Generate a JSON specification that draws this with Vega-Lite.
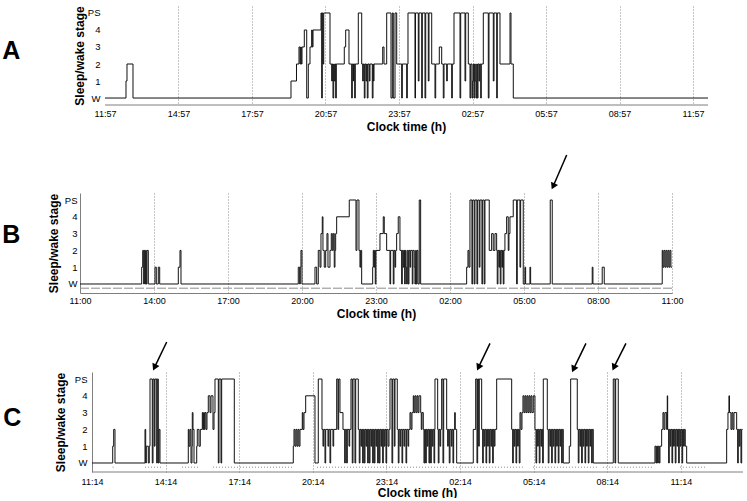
{
"$schema": "https://vega.github.io/schema/vega-lite/v6.json",
"padding": {"left": 2, "top": 5, "right": 2, "bottom": 0},
"columns": 1,
"spacing": 22,
"config": {
  "view": {"stroke": null},
  "font": "Liberation Sans",
  "axis": {"ticks": false, "labelFont": "Liberation Sans", "titleFont": "Liberation Sans", "labelColor": "#000", "titleColor": "#000", "labelFontSize": 9, "titleFontSize": 12, "titleFontWeight": "bold", "domainColor": "#7f7f7f", "gridColor": "#8a8a8a", "gridDash": [1, 2], "labelFlush": false, "labelOverlap": false},
  "axisY": {"labelFontSize": 9.5},
  "title": {"font": "Liberation Sans", "color": "#000"}
},
"datasets": {
"hypA": [{"t":0,"s":0},{"t":0.857,"s":1},{"t":0.898,"s":2},{"t":1.143,"s":0},{"t":7.592,"s":1},{"t":7.816,"s":2},{"t":7.918,"s":3},{"t":7.959,"s":2},{"t":7.988,"s":3},{"t":8.012,"s":2},{"t":8.041,"s":3},{"t":8.135,"s":4},{"t":8.233,"s":0},{"t":8.298,"s":2},{"t":8.367,"s":3},{"t":8.437,"s":4},{"t":8.461,"s":3},{"t":8.49,"s":4},{"t":8.816,"s":5},{"t":8.845,"s":0},{"t":8.869,"s":5},{"t":8.898,"s":2},{"t":8.927,"s":5},{"t":9.184,"s":2},{"t":9.253,"s":1},{"t":9.278,"s":2},{"t":9.306,"s":0},{"t":9.335,"s":2},{"t":9.359,"s":1},{"t":9.388,"s":2},{"t":9.416,"s":0},{"t":9.441,"s":2},{"t":9.767,"s":3},{"t":9.824,"s":4},{"t":9.959,"s":2},{"t":10.069,"s":0},{"t":10.094,"s":2},{"t":10.135,"s":1},{"t":10.151,"s":2},{"t":10.192,"s":0},{"t":10.216,"s":2},{"t":10.339,"s":5},{"t":10.478,"s":2},{"t":10.518,"s":1},{"t":10.543,"s":2},{"t":10.584,"s":0},{"t":10.612,"s":2},{"t":10.653,"s":1},{"t":10.682,"s":2},{"t":10.706,"s":0},{"t":10.735,"s":2},{"t":10.788,"s":1},{"t":10.816,"s":2},{"t":10.91,"s":0},{"t":10.939,"s":2},{"t":10.951,"s":1},{"t":10.98,"s":2},{"t":11.335,"s":3},{"t":11.388,"s":2},{"t":11.498,"s":5},{"t":11.673,"s":0},{"t":11.727,"s":5},{"t":11.767,"s":0},{"t":11.837,"s":5},{"t":11.906,"s":2},{"t":12.11,"s":0},{"t":12.135,"s":2},{"t":12.314,"s":0},{"t":12.339,"s":2},{"t":12.367,"s":5},{"t":12.653,"s":0},{"t":12.673,"s":5},{"t":12.788,"s":1},{"t":12.816,"s":5},{"t":12.927,"s":0},{"t":12.951,"s":5},{"t":13.061,"s":0},{"t":13.09,"s":5},{"t":13.196,"s":1},{"t":13.224,"s":5},{"t":13.335,"s":2},{"t":13.469,"s":0},{"t":13.498,"s":2},{"t":13.645,"s":3},{"t":13.743,"s":2},{"t":13.808,"s":0},{"t":13.837,"s":2},{"t":13.947,"s":1},{"t":13.971,"s":2},{"t":14.151,"s":0},{"t":14.176,"s":2},{"t":14.245,"s":5},{"t":14.49,"s":0},{"t":14.518,"s":5},{"t":14.694,"s":1},{"t":14.722,"s":5},{"t":14.829,"s":2},{"t":14.898,"s":0},{"t":14.927,"s":2},{"t":14.98,"s":0},{"t":15.008,"s":1},{"t":15.033,"s":2},{"t":15.061,"s":0},{"t":15.09,"s":2},{"t":15.114,"s":1},{"t":15.143,"s":0},{"t":15.171,"s":2},{"t":15.196,"s":0},{"t":15.224,"s":2},{"t":15.265,"s":1},{"t":15.294,"s":2},{"t":15.335,"s":0},{"t":15.359,"s":2},{"t":15.441,"s":5},{"t":15.645,"s":0},{"t":15.673,"s":5},{"t":15.849,"s":1},{"t":15.878,"s":5},{"t":15.988,"s":0},{"t":16.012,"s":5},{"t":16.122,"s":2},{"t":16.531,"s":5},{"t":16.571,"s":2},{"t":16.665,"s":0},{"t":24.612,"s":0}],
"hypB": [{"t":0,"s":0},{"t":2.501,"s":1},{"t":2.542,"s":2},{"t":2.582,"s":0},{"t":2.606,"s":2},{"t":2.635,"s":0},{"t":2.663,"s":2},{"t":2.687,"s":0},{"t":2.716,"s":2},{"t":2.769,"s":0},{"t":3.04,"s":1},{"t":3.093,"s":0},{"t":3.174,"s":1},{"t":3.231,"s":0},{"t":3.985,"s":1},{"t":4.054,"s":2},{"t":4.094,"s":0},{"t":8.849,"s":1},{"t":8.906,"s":0},{"t":8.93,"s":1},{"t":8.958,"s":2},{"t":8.999,"s":0},{"t":9.526,"s":1},{"t":9.595,"s":0},{"t":9.66,"s":2},{"t":9.729,"s":1},{"t":9.769,"s":3},{"t":9.822,"s":4},{"t":9.85,"s":2},{"t":9.903,"s":1},{"t":9.96,"s":2},{"t":10.012,"s":3},{"t":10.053,"s":1},{"t":10.134,"s":2},{"t":10.187,"s":3},{"t":10.227,"s":2},{"t":10.268,"s":3},{"t":10.308,"s":1},{"t":10.337,"s":2},{"t":10.365,"s":3},{"t":10.405,"s":4},{"t":10.916,"s":5},{"t":11.188,"s":2},{"t":11.228,"s":5},{"t":11.309,"s":2},{"t":11.35,"s":1},{"t":11.378,"s":2},{"t":11.419,"s":0},{"t":11.865,"s":1},{"t":11.889,"s":2},{"t":11.917,"s":1},{"t":11.946,"s":2},{"t":11.97,"s":0},{"t":11.998,"s":2},{"t":12.161,"s":3},{"t":12.294,"s":4},{"t":12.335,"s":3},{"t":12.432,"s":2},{"t":12.566,"s":0},{"t":12.594,"s":2},{"t":12.7,"s":0},{"t":12.728,"s":2},{"t":12.769,"s":1},{"t":12.797,"s":2},{"t":12.837,"s":3},{"t":12.902,"s":4},{"t":12.971,"s":2},{"t":13.04,"s":0},{"t":13.065,"s":2},{"t":13.105,"s":1},{"t":13.133,"s":2},{"t":13.162,"s":0},{"t":13.186,"s":2},{"t":13.214,"s":1},{"t":13.243,"s":0},{"t":13.267,"s":2},{"t":13.308,"s":0},{"t":13.336,"s":2},{"t":13.377,"s":1},{"t":13.405,"s":2},{"t":13.47,"s":0},{"t":13.498,"s":2},{"t":13.551,"s":1},{"t":13.579,"s":0},{"t":13.608,"s":2},{"t":13.632,"s":0},{"t":13.66,"s":2},{"t":13.701,"s":0},{"t":13.754,"s":5},{"t":13.81,"s":0},{"t":15.675,"s":1},{"t":15.728,"s":2},{"t":15.768,"s":1},{"t":15.809,"s":5},{"t":15.89,"s":0},{"t":15.918,"s":5},{"t":15.983,"s":0},{"t":16.011,"s":5},{"t":16.092,"s":0},{"t":16.121,"s":5},{"t":16.186,"s":1},{"t":16.214,"s":5},{"t":16.295,"s":0},{"t":16.324,"s":5},{"t":16.388,"s":0},{"t":16.417,"s":5},{"t":16.591,"s":2},{"t":16.688,"s":3},{"t":16.753,"s":2},{"t":16.822,"s":3},{"t":16.891,"s":2},{"t":16.915,"s":0},{"t":16.944,"s":2},{"t":16.984,"s":1},{"t":17.013,"s":2},{"t":17.037,"s":0},{"t":17.066,"s":2},{"t":17.106,"s":1},{"t":17.134,"s":2},{"t":17.159,"s":0},{"t":17.187,"s":2},{"t":17.227,"s":3},{"t":17.296,"s":4},{"t":17.361,"s":2},{"t":17.39,"s":3},{"t":17.43,"s":4},{"t":17.564,"s":5},{"t":17.702,"s":0},{"t":17.726,"s":5},{"t":17.836,"s":1},{"t":17.864,"s":5},{"t":17.969,"s":0},{"t":18.038,"s":1},{"t":18.066,"s":0},{"t":18.241,"s":1},{"t":18.269,"s":0},{"t":19.064,"s":5},{"t":19.145,"s":0},{"t":20.766,"s":1},{"t":20.795,"s":0},{"t":21.171,"s":1},{"t":21.253,"s":0},{"t":23.604,"s":2},{"t":23.632,"s":1},{"t":23.673,"s":2},{"t":23.713,"s":1},{"t":23.754,"s":2},{"t":23.794,"s":1},{"t":23.835,"s":2},{"t":23.875,"s":1},{"t":23.916,"s":2},{"t":23.956,"s":1},{"t":24.0,"s":1}],
"hypC": [{"t":0,"s":0},{"t":0.844,"s":1},{"t":0.884,"s":2},{"t":0.937,"s":0},{"t":2.16,"s":2},{"t":2.188,"s":0},{"t":2.213,"s":1},{"t":2.294,"s":0},{"t":2.335,"s":1},{"t":2.364,"s":5},{"t":2.457,"s":0},{"t":2.486,"s":5},{"t":2.539,"s":1},{"t":2.567,"s":5},{"t":2.637,"s":0},{"t":2.661,"s":5},{"t":2.702,"s":0},{"t":2.73,"s":2},{"t":2.771,"s":0},{"t":3.924,"s":2},{"t":3.953,"s":1},{"t":3.994,"s":2},{"t":4.034,"s":0},{"t":4.075,"s":1},{"t":4.087,"s":3},{"t":4.116,"s":2},{"t":4.157,"s":0},{"t":4.267,"s":1},{"t":4.291,"s":2},{"t":4.36,"s":1},{"t":4.413,"s":2},{"t":4.495,"s":3},{"t":4.523,"s":2},{"t":4.552,"s":3},{"t":4.576,"s":2},{"t":4.605,"s":3},{"t":4.646,"s":2},{"t":4.686,"s":3},{"t":4.739,"s":4},{"t":4.809,"s":3},{"t":4.849,"s":4},{"t":4.931,"s":2},{"t":4.972,"s":3},{"t":5.012,"s":5},{"t":5.147,"s":0},{"t":5.175,"s":5},{"t":5.257,"s":0},{"t":5.285,"s":5},{"t":5.799,"s":0},{"t":8.203,"s":1},{"t":8.232,"s":2},{"t":8.272,"s":1},{"t":8.313,"s":2},{"t":8.354,"s":1},{"t":8.395,"s":2},{"t":8.435,"s":1},{"t":8.476,"s":2},{"t":8.57,"s":3},{"t":8.598,"s":2},{"t":8.639,"s":3},{"t":8.708,"s":4},{"t":9.087,"s":0},{"t":9.222,"s":5},{"t":9.373,"s":2},{"t":9.413,"s":1},{"t":9.442,"s":2},{"t":9.495,"s":0},{"t":9.523,"s":2},{"t":9.617,"s":1},{"t":9.646,"s":2},{"t":9.699,"s":0},{"t":9.727,"s":2},{"t":9.821,"s":1},{"t":9.849,"s":2},{"t":9.972,"s":5},{"t":10.024,"s":2},{"t":10.053,"s":5},{"t":10.106,"s":3},{"t":10.228,"s":2},{"t":10.298,"s":0},{"t":10.322,"s":2},{"t":10.379,"s":0},{"t":10.404,"s":2},{"t":10.473,"s":1},{"t":10.501,"s":2},{"t":10.554,"s":5},{"t":10.607,"s":0},{"t":10.636,"s":5},{"t":10.717,"s":0},{"t":10.746,"s":5},{"t":10.852,"s":2},{"t":10.892,"s":0},{"t":10.921,"s":2},{"t":10.962,"s":1},{"t":10.99,"s":2},{"t":11.031,"s":0},{"t":11.055,"s":2},{"t":11.096,"s":0},{"t":11.125,"s":2},{"t":11.166,"s":1},{"t":11.194,"s":2},{"t":11.235,"s":0},{"t":11.259,"s":2},{"t":11.3,"s":0},{"t":11.329,"s":2},{"t":11.369,"s":1},{"t":11.398,"s":2},{"t":11.439,"s":0},{"t":11.463,"s":2},{"t":11.504,"s":0},{"t":11.532,"s":2},{"t":11.573,"s":1},{"t":11.602,"s":2},{"t":11.642,"s":0},{"t":11.667,"s":2},{"t":11.707,"s":0},{"t":11.736,"s":2},{"t":11.777,"s":1},{"t":11.805,"s":2},{"t":11.846,"s":0},{"t":11.87,"s":2},{"t":11.911,"s":1},{"t":11.94,"s":2},{"t":11.981,"s":0},{"t":12.009,"s":2},{"t":12.062,"s":1},{"t":12.103,"s":2},{"t":12.144,"s":5},{"t":12.225,"s":0},{"t":12.254,"s":5},{"t":12.319,"s":1},{"t":12.347,"s":5},{"t":12.441,"s":2},{"t":12.482,"s":0},{"t":12.51,"s":2},{"t":12.551,"s":1},{"t":12.58,"s":2},{"t":12.633,"s":0},{"t":12.661,"s":2},{"t":12.714,"s":1},{"t":12.743,"s":2},{"t":12.796,"s":0},{"t":12.824,"s":2},{"t":12.877,"s":1},{"t":12.906,"s":2},{"t":12.959,"s":3},{"t":12.999,"s":2},{"t":13.04,"s":3},{"t":13.093,"s":4},{"t":13.122,"s":3},{"t":13.162,"s":4},{"t":13.203,"s":3},{"t":13.244,"s":4},{"t":13.285,"s":3},{"t":13.325,"s":4},{"t":13.395,"s":3},{"t":13.419,"s":2},{"t":13.448,"s":3},{"t":13.501,"s":2},{"t":13.529,"s":0},{"t":13.558,"s":2},{"t":13.598,"s":0},{"t":13.623,"s":2},{"t":13.664,"s":1},{"t":13.692,"s":2},{"t":13.733,"s":0},{"t":13.761,"s":2},{"t":13.802,"s":0},{"t":13.826,"s":2},{"t":13.867,"s":1},{"t":13.896,"s":2},{"t":13.937,"s":0},{"t":13.965,"s":2},{"t":13.977,"s":5},{"t":14.087,"s":2},{"t":14.112,"s":0},{"t":14.14,"s":2},{"t":14.181,"s":1},{"t":14.21,"s":2},{"t":14.25,"s":5},{"t":14.303,"s":0},{"t":14.332,"s":5},{"t":14.454,"s":2},{"t":14.495,"s":1},{"t":14.519,"s":2},{"t":14.56,"s":0},{"t":14.589,"s":2},{"t":14.642,"s":1},{"t":14.67,"s":2},{"t":14.711,"s":0},{"t":14.739,"s":2},{"t":14.78,"s":3},{"t":14.804,"s":2},{"t":14.862,"s":0},{"t":15.538,"s":2},{"t":15.636,"s":5},{"t":15.689,"s":0},{"t":15.717,"s":5},{"t":15.758,"s":1},{"t":15.782,"s":5},{"t":15.88,"s":2},{"t":15.921,"s":0},{"t":15.945,"s":2},{"t":15.986,"s":1},{"t":16.015,"s":2},{"t":16.056,"s":0},{"t":16.084,"s":2},{"t":16.125,"s":1},{"t":16.15,"s":2},{"t":16.19,"s":0},{"t":16.219,"s":2},{"t":16.259,"s":1},{"t":16.288,"s":2},{"t":16.329,"s":0},{"t":16.353,"s":2},{"t":16.394,"s":1},{"t":16.422,"s":2},{"t":16.492,"s":5},{"t":17.103,"s":2},{"t":17.144,"s":0},{"t":17.168,"s":2},{"t":17.209,"s":1},{"t":17.237,"s":2},{"t":17.278,"s":0},{"t":17.307,"s":2},{"t":17.347,"s":1},{"t":17.372,"s":2},{"t":17.412,"s":0},{"t":17.441,"s":3},{"t":17.482,"s":2},{"t":17.523,"s":3},{"t":17.563,"s":4},{"t":17.604,"s":3},{"t":17.645,"s":4},{"t":17.686,"s":3},{"t":17.726,"s":4},{"t":17.767,"s":3},{"t":17.808,"s":4},{"t":17.849,"s":3},{"t":17.889,"s":4},{"t":17.93,"s":3},{"t":17.983,"s":4},{"t":18.052,"s":2},{"t":18.093,"s":0},{"t":18.122,"s":2},{"t":18.162,"s":1},{"t":18.187,"s":2},{"t":18.227,"s":0},{"t":18.256,"s":2},{"t":18.297,"s":1},{"t":18.325,"s":2},{"t":18.366,"s":0},{"t":18.391,"s":5},{"t":18.554,"s":2},{"t":18.594,"s":0},{"t":18.623,"s":2},{"t":18.664,"s":1},{"t":18.692,"s":2},{"t":18.733,"s":0},{"t":18.757,"s":2},{"t":18.798,"s":1},{"t":18.827,"s":2},{"t":18.867,"s":0},{"t":18.896,"s":2},{"t":18.937,"s":1},{"t":18.961,"s":2},{"t":19.002,"s":0},{"t":19.03,"s":2},{"t":19.071,"s":1},{"t":19.1,"s":2},{"t":19.14,"s":0},{"t":19.165,"s":2},{"t":19.206,"s":0},{"t":19.45,"s":1},{"t":19.507,"s":5},{"t":19.776,"s":2},{"t":19.817,"s":0},{"t":19.845,"s":2},{"t":19.886,"s":1},{"t":19.915,"s":2},{"t":19.955,"s":0},{"t":19.98,"s":2},{"t":20.021,"s":1},{"t":20.049,"s":2},{"t":20.09,"s":0},{"t":20.118,"s":2},{"t":20.159,"s":1},{"t":20.183,"s":2},{"t":20.224,"s":0},{"t":20.253,"s":2},{"t":20.294,"s":1},{"t":20.322,"s":2},{"t":20.363,"s":0},{"t":20.387,"s":2},{"t":20.428,"s":0},{"t":21.243,"s":5},{"t":21.312,"s":0},{"t":21.341,"s":5},{"t":21.447,"s":0},{"t":22.942,"s":1},{"t":22.983,"s":0},{"t":23.012,"s":1},{"t":23.052,"s":0},{"t":23.077,"s":1},{"t":23.117,"s":0},{"t":23.146,"s":1},{"t":23.215,"s":2},{"t":23.268,"s":3},{"t":23.309,"s":2},{"t":23.35,"s":3},{"t":23.419,"s":2},{"t":23.444,"s":4},{"t":23.46,"s":2},{"t":23.5,"s":0},{"t":23.525,"s":2},{"t":23.566,"s":1},{"t":23.594,"s":2},{"t":23.635,"s":0},{"t":23.663,"s":2},{"t":23.704,"s":1},{"t":23.729,"s":2},{"t":23.769,"s":0},{"t":23.798,"s":2},{"t":23.839,"s":1},{"t":23.867,"s":2},{"t":23.908,"s":0},{"t":23.932,"s":2},{"t":23.973,"s":1},{"t":24.002,"s":2},{"t":24.043,"s":0},{"t":24.071,"s":2},{"t":24.112,"s":1},{"t":24.137,"s":2},{"t":24.177,"s":1},{"t":24.234,"s":0},{"t":25.864,"s":2},{"t":25.917,"s":3},{"t":25.958,"s":4},{"t":25.978,"s":3},{"t":26.039,"s":2},{"t":26.08,"s":3},{"t":26.121,"s":2},{"t":26.162,"s":3},{"t":26.272,"s":2},{"t":26.313,"s":0},{"t":26.337,"s":2},{"t":26.378,"s":1},{"t":26.407,"s":2},{"t":26.447,"s":0},{"t":26.476,"s":2},{"t":26.516,"s":2}],
"wake": [{"p":"B","a":0,"b":24},{"p":"C","a":0.84,"b":0.94},{"p":"C","a":2.16,"b":2.89},{"p":"C","a":3.67,"b":4.4},{"p":"C","a":4.93,"b":8.15},{"p":"C","a":9.17,"b":14.47},{"p":"C","a":14.71,"b":17.56},{"p":"C","a":17.97,"b":20.58},{"p":"C","a":20.82,"b":22.86},{"p":"C","a":23.96,"b":25.06}],
"span": [{"p":"A","a":0,"b":24.612},{"p":"C","a":0,"b":26.53}],
"arrows": [{"p":"B","tx":19.73,"ty":7.68,"hx":19.2,"hy":5.875},{"p":"C","tx":3.044,"ty":7.2,"hx":2.567,"hy":5.75},{"p":"C","tx":16.219,"ty":7.125,"hx":15.77,"hy":5.75},{"p":"C","tx":20.13,"ty":7.125,"hx":19.641,"hy":5.65},{"p":"C","tx":21.76,"ty":7.125,"hx":21.288,"hy":5.75}]
},
"concat": [
{
  "width": 628, "height": 99,
  "title": {"text": "A", "orient": "left", "angle": 0, "fontSize": 25, "fontWeight": "bold", "align": "right", "baseline": "middle", "anchor": "middle", "offset": 35, "dy": -5},
  "layer": [
    {"data": {"name": "hypA"},
     "mark": {"type": "line", "interpolate": "step-after", "color": "#111", "strokeWidth": 1},
     "encoding": {
       "x": {"field": "t", "type": "quantitative", "scale": {"domain": [-1.02, 24.612], "nice": false, "zero": false},
             "axis": {"values": [0,3,6,9,12,15,18,21,24], "labelExpr": "format((11 + datum.value) % 24, '02d') + ':57'", "title": "Clock time (h)", "grid": true, "gridOpacity": {"condition": {"test": "datum.value == 0", "value": 0}, "value": 1}, "domain": false, "labelPadding": 4, "titlePadding": 3, "titleX": 326}},
       "y": {"field": "s", "type": "quantitative", "scale": {"domain": [-0.41, 5.41], "nice": false, "zero": false},
             "axis": {"values": [0,1,2,3,4,5], "labelExpr": "datum.value == 0 ? 'W' : datum.value == 5 ? 'PS' : datum.label", "title": "Sleep/wake stage", "grid": false, "domain": false, "labelPadding": 5, "titlePadding": 1, "offset": -25}}
     }},
    {"data": {"name": "span"}, "transform": [{"filter": "datum.p == 'A'"}],
     "mark": {"type": "rule", "color": "#7f7f7f", "strokeWidth": 1},
     "encoding": {
       "x": {"field": "a", "type": "quantitative", "scale": {"domain": [-1.02, 24.612], "nice": false, "zero": false},
             "axis": {"values": [0,3,6,9,12,15,18,21,24], "labelExpr": "format((11 + datum.value) % 24, '02d') + ':57'", "title": "Clock time (h)", "grid": true, "gridOpacity": {"condition": {"test": "datum.value == 0", "value": 0}, "value": 1}, "domain": false, "labelPadding": 4, "titlePadding": 3, "titleX": 326}},
       "x2": {"field": "b"},
       "y": {"datum": -0.41, "type": "quantitative", "scale": {"domain": [-0.41, 5.41], "nice": false, "zero": false},
             "axis": {"values": [0,1,2,3,4,5], "labelExpr": "datum.value == 0 ? 'W' : datum.value == 5 ? 'PS' : datum.label", "title": "Sleep/wake stage", "grid": false, "domain": false, "labelPadding": 5, "titlePadding": 1, "offset": -25}}
     }}
  ]
},
{
  "width": 592, "height": 100,
  "title": {"text": "B", "orient": "left", "angle": 0, "fontSize": 25, "fontWeight": "bold", "align": "right", "baseline": "middle", "anchor": "middle", "offset": 9, "dy": -8},
  "layer": [
    {"data": {"name": "hypB"},
     "mark": {"type": "line", "interpolate": "step-after", "color": "#111", "strokeWidth": 1},
     "encoding": {
       "x": {"field": "t", "type": "quantitative", "scale": {"domain": [0, 24], "nice": false, "zero": false},
             "axis": {"values": [0,3,6,9,12,15,18,21,24], "labelExpr": "format((11 + datum.value) % 24, '02d') + ':00'", "title": "Clock time (h)", "grid": true, "gridOpacity": {"condition": {"test": "datum.value == 0", "value": 0}, "value": 1}, "labelPadding": 3, "titlePadding": 3}},
       "y": {"field": "s", "type": "quantitative", "scale": {"domain": [-0.536, 5.417], "nice": false, "zero": false},
             "axis": {"values": [0,1,2,3,4,5], "labelExpr": "datum.value == 0 ? 'W' : datum.value == 5 ? 'PS' : datum.label", "title": "Sleep/wake stage", "grid": false, "domain": true, "labelPadding": 3, "titlePadding": 4}}
     }},
    {"data": {"name": "wake"}, "transform": [{"filter": "datum.p == 'B'"}],
     "mark": {"type": "rule", "color": "#8c8c8c", "strokeDash": [9, 2], "strokeWidth": 1},
     "encoding": {
       "x": {"field": "a", "type": "quantitative", "scale": {"domain": [0, 24], "nice": false, "zero": false},
             "axis": {"values": [0,3,6,9,12,15,18,21,24], "labelExpr": "format((11 + datum.value) % 24, '02d') + ':00'", "title": "Clock time (h)", "grid": true, "gridOpacity": {"condition": {"test": "datum.value == 0", "value": 0}, "value": 1}, "labelPadding": 3, "titlePadding": 3}},
       "x2": {"field": "b"},
       "y": {"datum": -0.25, "type": "quantitative", "scale": {"domain": [-0.536, 5.417], "nice": false, "zero": false},
             "axis": {"values": [0,1,2,3,4,5], "labelExpr": "datum.value == 0 ? 'W' : datum.value == 5 ? 'PS' : datum.label", "title": "Sleep/wake stage", "grid": false, "domain": true, "labelPadding": 3, "titlePadding": 4}}
     }},
    {"data": {"name": "arrows"}, "transform": [{"filter": "datum.p == 'B'"}],
     "mark": {"type": "rule", "color": "#000", "strokeWidth": 1.5, "clip": false},
     "encoding": {
       "x": {"field": "tx", "type": "quantitative", "scale": {"domain": [0, 24], "nice": false, "zero": false},
             "axis": {"values": [0,3,6,9,12,15,18,21,24], "labelExpr": "format((11 + datum.value) % 24, '02d') + ':00'", "title": "Clock time (h)", "grid": true, "gridOpacity": {"condition": {"test": "datum.value == 0", "value": 0}, "value": 1}, "labelPadding": 3, "titlePadding": 3}},
       "y": {"field": "ty", "type": "quantitative", "scale": {"domain": [-0.536, 5.417], "nice": false, "zero": false},
             "axis": {"values": [0,1,2,3,4,5], "labelExpr": "datum.value == 0 ? 'W' : datum.value == 5 ? 'PS' : datum.label", "title": "Sleep/wake stage", "grid": false, "domain": true, "labelPadding": 3, "titlePadding": 4}},
       "x2": {"field": "hx"},
       "y2": {"field": "hy"}
     }},
    {"data": {"name": "arrows"}, "transform": [{"filter": "datum.p == 'B'"}],
     "mark": {"type": "point", "shape": "triangle", "filled": true, "color": "#000", "size": 60, "angle": 205, "opacity": 1, "clip": false},
     "encoding": {
       "x": {"field": "hx", "type": "quantitative", "scale": {"domain": [0, 24], "nice": false, "zero": false},
             "axis": {"values": [0,3,6,9,12,15,18,21,24], "labelExpr": "format((11 + datum.value) % 24, '02d') + ':00'", "title": "Clock time (h)", "grid": true, "gridOpacity": {"condition": {"test": "datum.value == 0", "value": 0}, "value": 1}, "labelPadding": 3, "titlePadding": 3}},
       "y": {"field": "hy", "type": "quantitative", "scale": {"domain": [-0.536, 5.417], "nice": false, "zero": false},
             "axis": {"values": [0,1,2,3,4,5], "labelExpr": "datum.value == 0 ? 'W' : datum.value == 5 ? 'PS' : datum.label", "title": "Sleep/wake stage", "grid": false, "domain": true, "labelPadding": 3, "titlePadding": 4}}
     }}
  ]
},
{
  "width": 663, "height": 100,
  "title": {"text": "C", "orient": "left", "angle": 0, "fontSize": 25, "fontWeight": "bold", "align": "right", "baseline": "middle", "anchor": "middle", "offset": 15, "dy": -4},
  "layer": [
    {"data": {"name": "hypC"},
     "mark": {"type": "line", "interpolate": "step-after", "color": "#111", "strokeWidth": 1},
     "encoding": {
       "x": {"field": "t", "type": "quantitative", "scale": {"domain": [-0.489, 26.53], "nice": false, "zero": false},
             "axis": {"values": [0,3,6,9,12,15,18,21,24], "labelExpr": "format((11 + datum.value) % 24, '02d') + ':14'", "title": "Clock time (h)", "grid": true, "gridOpacity": {"condition": {"test": "datum.value == 0", "value": 0}, "value": 1}, "domain": false, "labelPadding": 5, "titlePadding": 1, "titleX": 337}},
       "y": {"field": "s", "type": "quantitative", "scale": {"domain": [-0.536, 5.417], "nice": false, "zero": false},
             "axis": {"values": [0,1,2,3,4,5], "labelExpr": "datum.value == 0 ? 'W' : datum.value == 5 ? 'PS' : datum.label", "title": "Sleep/wake stage", "grid": false, "domain": true, "labelPadding": 5, "titlePadding": 7, "offset": -12}}
     }},
    {"data": {"name": "span"}, "transform": [{"filter": "datum.p == 'C'"}],
     "mark": {"type": "rule", "color": "#7f7f7f", "strokeWidth": 1},
     "encoding": {
       "x": {"field": "a", "type": "quantitative", "scale": {"domain": [-0.489, 26.53], "nice": false, "zero": false},
             "axis": {"values": [0,3,6,9,12,15,18,21,24], "labelExpr": "format((11 + datum.value) % 24, '02d') + ':14'", "title": "Clock time (h)", "grid": true, "gridOpacity": {"condition": {"test": "datum.value == 0", "value": 0}, "value": 1}, "domain": false, "labelPadding": 5, "titlePadding": 1, "titleX": 337}},
       "x2": {"field": "b"},
       "y": {"datum": -0.536, "type": "quantitative", "scale": {"domain": [-0.536, 5.417], "nice": false, "zero": false},
             "axis": {"values": [0,1,2,3,4,5], "labelExpr": "datum.value == 0 ? 'W' : datum.value == 5 ? 'PS' : datum.label", "title": "Sleep/wake stage", "grid": false, "domain": true, "labelPadding": 5, "titlePadding": 7, "offset": -12}}
     }},
    {"data": {"name": "wake"}, "transform": [{"filter": "datum.p == 'C'"}],
     "mark": {"type": "rule", "color": "#8c8c8c", "strokeDash": [1, 2], "strokeWidth": 1},
     "encoding": {
       "x": {"field": "a", "type": "quantitative", "scale": {"domain": [-0.489, 26.53], "nice": false, "zero": false},
             "axis": {"values": [0,3,6,9,12,15,18,21,24], "labelExpr": "format((11 + datum.value) % 24, '02d') + ':14'", "title": "Clock time (h)", "grid": true, "gridOpacity": {"condition": {"test": "datum.value == 0", "value": 0}, "value": 1}, "domain": false, "labelPadding": 5, "titlePadding": 1, "titleX": 337}},
       "x2": {"field": "b"},
       "y": {"datum": -0.25, "type": "quantitative", "scale": {"domain": [-0.536, 5.417], "nice": false, "zero": false},
             "axis": {"values": [0,1,2,3,4,5], "labelExpr": "datum.value == 0 ? 'W' : datum.value == 5 ? 'PS' : datum.label", "title": "Sleep/wake stage", "grid": false, "domain": true, "labelPadding": 5, "titlePadding": 7, "offset": -12}}
     }},
    {"data": {"name": "arrows"}, "transform": [{"filter": "datum.p == 'C'"}],
     "mark": {"type": "rule", "color": "#000", "strokeWidth": 1.5, "clip": false},
     "encoding": {
       "x": {"field": "tx", "type": "quantitative", "scale": {"domain": [-0.489, 26.53], "nice": false, "zero": false},
             "axis": {"values": [0,3,6,9,12,15,18,21,24], "labelExpr": "format((11 + datum.value) % 24, '02d') + ':14'", "title": "Clock time (h)", "grid": true, "gridOpacity": {"condition": {"test": "datum.value == 0", "value": 0}, "value": 1}, "domain": false, "labelPadding": 5, "titlePadding": 1, "titleX": 337}},
       "y": {"field": "ty", "type": "quantitative", "scale": {"domain": [-0.536, 5.417], "nice": false, "zero": false},
             "axis": {"values": [0,1,2,3,4,5], "labelExpr": "datum.value == 0 ? 'W' : datum.value == 5 ? 'PS' : datum.label", "title": "Sleep/wake stage", "grid": false, "domain": true, "labelPadding": 5, "titlePadding": 7, "offset": -12}},
       "x2": {"field": "hx"},
       "y2": {"field": "hy"}
     }},
    {"data": {"name": "arrows"}, "transform": [{"filter": "datum.p == 'C'"}],
     "mark": {"type": "point", "shape": "triangle", "filled": true, "color": "#000", "size": 60, "angle": 205, "opacity": 1, "clip": false},
     "encoding": {
       "x": {"field": "hx", "type": "quantitative", "scale": {"domain": [-0.489, 26.53], "nice": false, "zero": false},
             "axis": {"values": [0,3,6,9,12,15,18,21,24], "labelExpr": "format((11 + datum.value) % 24, '02d') + ':14'", "title": "Clock time (h)", "grid": true, "gridOpacity": {"condition": {"test": "datum.value == 0", "value": 0}, "value": 1}, "domain": false, "labelPadding": 5, "titlePadding": 1, "titleX": 337}},
       "y": {"field": "hy", "type": "quantitative", "scale": {"domain": [-0.536, 5.417], "nice": false, "zero": false},
             "axis": {"values": [0,1,2,3,4,5], "labelExpr": "datum.value == 0 ? 'W' : datum.value == 5 ? 'PS' : datum.label", "title": "Sleep/wake stage", "grid": false, "domain": true, "labelPadding": 5, "titlePadding": 7, "offset": -12}}
     }}
  ]
}
]
}
